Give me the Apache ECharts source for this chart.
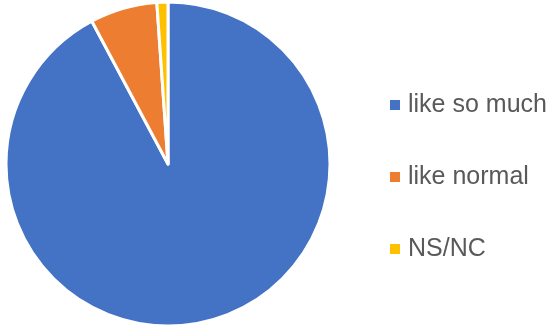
<!DOCTYPE html>
<html>
<head>
<meta charset="utf-8">
<style>
  html, body { margin: 0; padding: 0; background: #ffffff; }
  #chart { width: 550px; height: 326px; }
</style>
<script src="https://cdn.jsdelivr.net/npm/echarts@6/dist/echarts.min.js"></script>
</head>
<body>
<div id="chart"></div>
<script>
  var categories = ['like so much', 'like normal', 'NS/NC'];
  var values = [92.2, 6.7, 1.1];
  var colors = ['#4472C4', '#ED7D31', '#FFC000'];

  var chart = echarts.init(document.getElementById('chart'));
  chart.setOption({
    animation: false,
    color: colors,
    legend: {
      orient: 'vertical',
      left: 383,
      top: 85,
      itemWidth: 12,
      itemHeight: 12,
      itemGap: 42,
      icon: 'rect',
      data: categories,
      textStyle: {
        fontFamily: 'Liberation Sans, Arial, sans-serif',
        fontSize: 25,
        lineHeight: 30,
        color: '#595959',
        padding: [0, 0, 0, 2]
      }
    },
    series: [
      {
        type: 'pie',
        center: [168, 164],
        radius: [0, 162],
        startAngle: 90,
        clockwise: true,
        label: { show: false },
        labelLine: { show: false },
        itemStyle: {
          borderColor: '#ffffff',
          borderWidth: 3
        },
        data: categories.map(function (name, i) {
          return { name: name, value: values[i] };
        })
      }
    ]
  });
</script>
</body>
</html>
